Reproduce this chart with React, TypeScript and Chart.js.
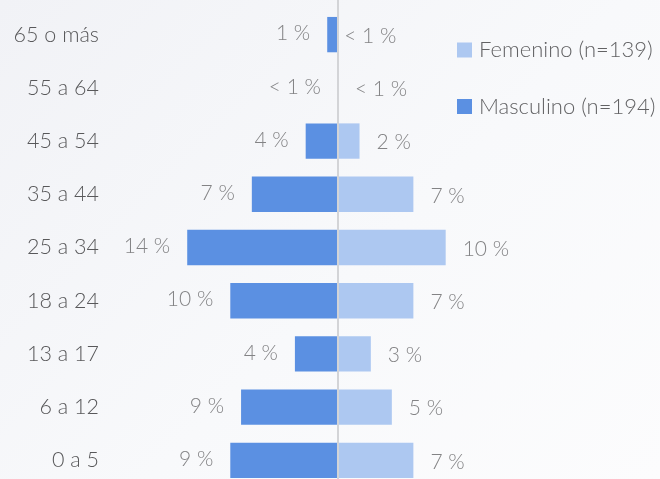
import React, { useEffect, useRef } from "react";
import { Chart, registerables } from "chart.js";

Chart.register(...registerables);

const categories = ["65 o más", "55 a 64", "45 a 54", "35 a 44", "25 a 34", "18 a 24", "13 a 17", "6 a 12", "0 a 5"];
const maleValues = [1, 0, 3, 8, 14, 10, 4, 9, 10];
const femaleValues = [0, 0, 2, 7, 10, 7, 3.05, 5, 7];
const maleLabels = ["1 %", "< 1 %", "4 %", "7 %", "14 %", "10 %", "4 %", "9 %", "9 %"];
const femaleLabels = ["< 1 %", "< 1 %", "2 %", "7 %", "10 %", "7 %", "3 %", "5 %", "7 %"];
const maleName = "Masculino (n=194)";
const femaleName = "Femenino (n=139)";

const MALE_COLOR = "#5b90e2";
const FEMALE_COLOR = "#adc8f1";
const FONT = "Lato, 'Open Sans', sans-serif";

const valueLabelPlugin = {
  id: "valueLabels",
  afterDatasetsDraw(chart: any) {
    const ctx = chart.ctx;
    ctx.save();
    ctx.font = `300 21px ${FONT}`;
    ctx.fillStyle = "#838385";
    ctx.textBaseline = "middle";
    chart.data.datasets.forEach((ds: any, di: number) => {
      const meta = chart.getDatasetMeta(di);
      const labels: string[] = ds.valueLabels;
      meta.data.forEach((el: any, i: number) => {
        if (ds.side === "left") {
          ctx.textAlign = "right";
          ctx.fillText(labels[i], el.x - 17, el.y - 1);
        } else {
          ctx.textAlign = "left";
          ctx.fillText(labels[i], el.x + 17, el.y + 1.5);
        }
      });
    });
    ctx.restore();
  },
};

const centerLinePlugin = {
  id: "centerLine",
  afterDatasetsDraw(chart: any) {
    const ctx = chart.ctx;
    const x = chart.scales.x.getPixelForValue(0);
    ctx.save();
    ctx.strokeStyle = "#d3d4d7";
    ctx.lineWidth = 2;
    ctx.beginPath();
    ctx.moveTo(x, 0);
    ctx.lineTo(x, chart.height);
    ctx.stroke();
    ctx.restore();
  },
};

const legendPlugin = {
  id: "customLegend",
  afterDraw(chart: any) {
    const ctx = chart.ctx;
    const items = [chart.data.datasets[1], chart.data.datasets[0]];
    ctx.save();
    ctx.font = `300 22px ${FONT}`;
    ctx.textBaseline = "middle";
    ctx.textAlign = "left";
    items.forEach((ds: any, i: number) => {
      const cy = 50 + i * 56.5;
      ctx.fillStyle = ds.backgroundColor;
      ctx.fillRect(457, cy - 7.5, 15, 15);
      ctx.fillStyle = "#626264";
      ctx.fillText(ds.label, 479, cy);
    });
    ctx.restore();
  },
};

export default function App() {
  const ref = useRef<HTMLCanvasElement | null>(null);
  useEffect(() => {
    if (!ref.current) return;
    const chart = new Chart(ref.current, {
      type: "bar",
      data: {
        labels: categories,
        datasets: [
          {
            label: maleName,
            data: maleValues.map((v) => -v),
            backgroundColor: MALE_COLOR,
            barPercentage: 1,
            categoryPercentage: 0.664,
            valueLabels: maleLabels,
            side: "left",
          } as any,
          {
            label: femaleName,
            data: femaleValues,
            backgroundColor: FEMALE_COLOR,
            barPercentage: 1,
            categoryPercentage: 0.664,
            valueLabels: femaleLabels,
            side: "right",
          } as any,
        ],
      },
      options: {
        indexAxis: "y",
        responsive: false,
        animation: false,
        layout: { padding: { top: 8, bottom: 3, left: 0, right: 0 } },
        plugins: { legend: { display: false }, tooltip: { enabled: false } },
        scales: {
          x: {
            stacked: true,
            display: false,
            min: -21.17,
            max: 29.9,
          },
          y: {
            stacked: true,
            grid: { display: false, drawTicks: false },
            border: { display: false },
            ticks: {
              padding: 11,
              color: "#58585a",
              font: { family: FONT, size: 21.5, weight: "300" as any },
            },
            afterFit: (scale: any) => {
              scale.width = 110;
              scale.paddingTop = 0;
              scale.paddingBottom = 0;
            },
          },
        },
      },
      plugins: [centerLinePlugin, valueLabelPlugin, legendPlugin],
    });
    return () => chart.destroy();
  }, []);

  return (
    <div
      style={{
        position: "fixed",
        top: 0,
        left: 0,
        width: 660,
        height: 479,
        overflow: "hidden",
        background: "linear-gradient(135deg, #f1f2f6 0%, #f8f9fb 55%, #fcfcfd 100%)",
      }}
    >
      <canvas ref={ref} width={660} height={490} style={{ display: "block", width: 660, height: 490 }} />
    </div>
  );
}
